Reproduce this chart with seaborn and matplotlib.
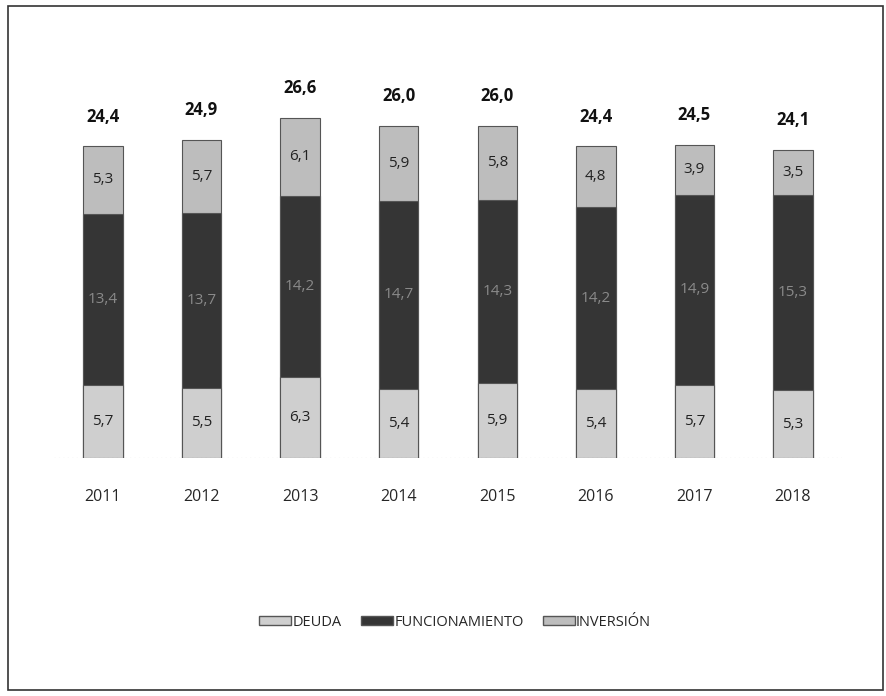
import matplotlib
matplotlib.use("Agg")
import matplotlib.pyplot as plt
import matplotlib.patches as mpatches
import numpy as np
import pandas as pd
import seaborn as sns

years = ["2011", "2012", "2013", "2014", "2015", "2016", "2017", "2018"]
deuda = [5.7, 5.5, 6.3, 5.4, 5.9, 5.4, 5.7, 5.3]
funcionamiento = [13.4, 13.7, 14.2, 14.7, 14.3, 14.2, 14.9, 15.3]
inversion = [5.3, 5.7, 6.1, 5.9, 5.8, 4.8, 3.9, 3.5]
totales = [24.4, 24.9, 26.6, 26.0, 26.0, 24.4, 24.5, 24.1]

df = pd.DataFrame({"year": years, "deuda": deuda,
                   "funcionamiento": funcionamiento, "inversion": inversion})
df["tope_func"] = df["deuda"] + df["funcionamiento"]
df["tope_inv"] = df["tope_func"] + df["inversion"]

sns.set_style("white")
plt.rcParams["font.family"] = ["Open Sans", "DejaVu Sans"]

c_deuda = "#cfcfcf"
c_func = "#353535"
c_inv = "#bdbdbd"

fig = plt.figure(figsize=(8.87, 6.96), dpi=100)
ax = fig.add_axes([0.0605, 0.342, 0.889, 0.551])

# stacked by overdrawing cumulative heights
sns.barplot(data=df, x="year", y="tope_inv", color=c_inv, width=0.4,
            edgecolor="#555555", linewidth=0.8, ax=ax)
sns.barplot(data=df, x="year", y="tope_func", color=c_func, width=0.4,
            edgecolor="#555555", linewidth=0.8, ax=ax)
sns.barplot(data=df, x="year", y="deuda", color=c_deuda, width=0.4,
            edgecolor="#555555", linewidth=0.8, ax=ax)

fmt = lambda v: f"{v:.1f}".replace(".", ",")
for i in range(len(years)):
    ax.text(i, deuda[i] / 2, fmt(deuda[i]), ha="center", va="center",
            fontsize=11, color="#222222")
    ax.text(i, deuda[i] + funcionamiento[i] / 2, fmt(funcionamiento[i]),
            ha="center", va="center", fontsize=11, color="#8a8a8a")
    ax.text(i, df["tope_func"][i] + inversion[i] / 2, fmt(inversion[i]),
            ha="center", va="center", fontsize=11, color="#222222")
    ax.text(i, totales[i] + 1.6, fmt(totales[i]), ha="center", va="bottom",
            fontsize=12, fontweight="bold", color="#111111")

ax.set_xlim(-0.5, 7.5)
ax.set_ylim(0, 30)
ax.set_xlabel("")
ax.set_ylabel("")
ax.set_yticks([])
ax.tick_params(axis="x", length=0, pad=22, labelsize=11.5)
for s in ax.spines.values():
    s.set_visible(False)
ax.axhline(0, color="#999999", lw=0.8, ls=(0, (1, 3)))

handles = [mpatches.Patch(facecolor=c_deuda, edgecolor="#555555", label="DEUDA"),
           mpatches.Patch(facecolor=c_func, edgecolor="#555555", label="FUNCIONAMIENTO"),
           mpatches.Patch(facecolor=c_inv, edgecolor="#555555", label="INVERSIÓN")]
fig.legend(handles=handles, loc="center", bbox_to_anchor=(0.513, 0.106), ncol=3,
           frameon=False, fontsize=10.5, handlelength=2.2, handleheight=0.5,
           handletextpad=0.1, columnspacing=1.3)

fig.patches.append(mpatches.Rectangle((0.009, 0.008), 0.987, 0.984,
                                      transform=fig.transFigure, fill=False,
                                      edgecolor="#333333", linewidth=1.2))

fig.savefig("out.png", dpi=100)
